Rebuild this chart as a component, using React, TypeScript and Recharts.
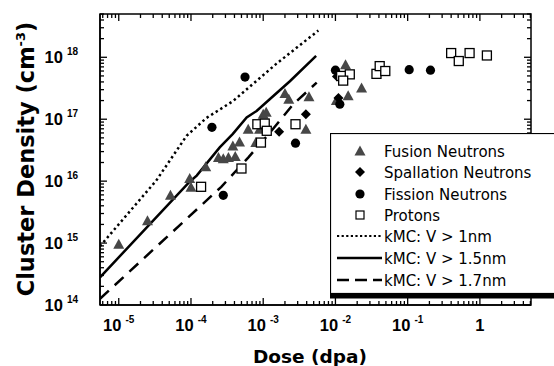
import { ScatterChart, Scatter, XAxis, YAxis, ReferenceArea } from "recharts";

const fusionDose = [
  1e-5, 2.5e-5, 5.2e-5, 9.6e-5, 1.0e-4, 1.6e-4, 2.4e-4, 2.8e-4, 3.3e-4, 4.1e-4,
  3.8e-4, 4.7e-4, 6.2e-4, 7.9e-4, 8.9e-4, 1.0e-3, 1.1e-3, 2.0e-3, 2.26e-3, 4.3e-3,
  3.9e-3, 1.03e-2, 1.5e-2, 1.38e-2, 2.3e-2,
];
const fusionDensity = [
  9.6e14, 2.3e15, 5.9e15, 1.1e16, 8.0e15, 1.7e16, 2.4e16, 2.3e16, 2.4e16, 2.5e16,
  3.7e16, 4.3e16, 6.9e16, 4.2e16, 6.9e16, 1.2e17, 1.3e17, 2.6e17, 2.1e17, 2.3e17,
  6.9e16, 2.0e17, 2.4e17, 7.6e17, 3.2e17,
];

const spallationDose = [1.66e-3, 3.9e-3, 1.05e-2, 1.1e-2];
const spallationDensity = [6.3e16, 1.2e17, 4.9e17, 2.2e17];

const fissionDose = [1.95e-4, 2.8e-4, 5.6e-4, 2.8e-3, 1.0e-2, 1.15e-2, 0.105, 0.207];
const fissionDensity = [7.4e16, 5.9e15, 4.8e17, 4.1e16, 6.2e17, 1.75e17, 6.3e17, 6.2e17];

const protonDose = [
  1.38e-4, 5.0e-4, 8.3e-4, 1.05e-3, 1.12e-3, 9.3e-4, 2.8e-3, 1.2e-2, 1.58e-2, 1.28e-2,
  3.7e-2, 4.1e-2, 4.9e-2, 0.4, 0.51, 0.72, 1.25,
];
const protonDensity = [
  8.1e15, 1.6e16, 8.3e16, 8.5e16, 6.5e16, 4.2e16, 8.3e16, 5.0e17, 5.3e17, 4.2e17,
  5.4e17, 7.2e17, 6.0e17, 1.17e18, 8.7e17, 1.17e18, 1.07e18,
];

// kMC curves
const kmc10Dose = [5.5e-6, 3.3e-5, 8.7e-5, 1.64e-4, 3.8e-4, 1.53e-3, 5.8e-3];
const kmc10Density = [8.9e14, 1.02e16, 5.4e16, 1.05e17, 1.95e17, 7.9e17, 2.7e18];

const kmc15Dose = [5.5e-6, 9.6e-5, 1.2e-4, 2.5e-4, 3.8e-4, 5.9e-4, 8.1e-4, 1.23e-3, 2.34e-3, 5.4e-3];
const kmc15Density = [2.8e14, 9.8e15, 1.23e16, 3.5e16, 5.8e16, 1.07e17, 1.36e17, 2.1e17, 4.1e17, 1.05e18];

const kmc17Dose = [5.5e-6, 2.63e-4, 6.2e-4, 1.23e-3, 2.6e-3, 5.5e-3];
const kmc17Density = [1.26e14, 8.1e15, 2.4e16, 6.0e16, 1.74e17, 3.9e17];

const xMajorTicks = [1e-5, 1e-4, 1e-3, 1e-2, 1e-1, 1];
const xTickExponents = ["-5", "-4", "-3", "-2", "-1", ""];
const yMajorTicks = [1e14, 1e15, 1e16, 1e17, 1e18];
const yTickExponents = ["14", "15", "16", "17", "18"];

const legendLabels = [
  "Fusion Neutrons",
  "Spallation Neutrons",
  "Fission Neutrons",
  "Protons",
  "kMC: V > 1nm",
  "kMC: V > 1.5nm",
  "kMC: V > 1.7nm",
];

const X_DOMAIN = [5.5e-6, 5.1];
const Y_DOMAIN = [1e14, 5e18];

const PLOT_TOP = 14;
const PLOT_BOTTOM = 305;
const PLOT_LEFT = 100;
const PLOT_RIGHT = 531;

const zip = (xs: number[], ys: number[]) => xs.map((x, i) => ({ x, y: ys[i] }));

function withMinors(majors: number[], lo: number, hi: number) {
  const out: number[] = [];
  const first = majors[0] / 10;
  for (const m of [first, ...majors]) {
    for (let k = 1; k < 10; k++) {
      const v = m * k;
      if (v >= lo && v <= hi) out.push(v);
    }
  }
  return out;
}

const xTicks = withMinors(xMajorTicks, X_DOMAIN[0], X_DOMAIN[1]);
const yTicks = withMinors(yMajorTicks, Y_DOMAIN[0], Y_DOMAIN[1]);

const majorIndex = (majors: number[], v: number) =>
  majors.findIndex((m) => Math.abs(v / m - 1) < 1e-6);

const TICK_FONT = "'Liberation Sans', Arial, sans-serif";
const TITLE_FONT = "'DejaVu Sans', sans-serif";

function XTick(props: any) {
  const { x, payload } = props;
  const i = majorIndex(xMajorTicks, payload.value);
  const len = i >= 0 ? 7 : 4;
  return (
    <g>
      <line x1={x} x2={x} y1={PLOT_BOTTOM} y2={PLOT_BOTTOM - len} stroke="#000" strokeWidth={1.3} />
      <line x1={x} x2={x} y1={PLOT_TOP} y2={PLOT_TOP + len} stroke="#000" strokeWidth={1.3} />
      {i >= 0 && (
        <text x={x} y={PLOT_BOTTOM + 26} textAnchor="middle" fontFamily={TICK_FONT} fontWeight="bold" fontSize={16.5} fill="#000">
          {xTickExponents[i] === "" ? (
            "1"
          ) : (
            <>
              10
              <tspan dx={4} dy={-8} fontSize={10}>{xTickExponents[i]}</tspan>
            </>
          )}
        </text>
      )}
    </g>
  );
}

function YTick(props: any) {
  const { y, payload } = props;
  const i = majorIndex(yMajorTicks, payload.value);
  const len = i >= 0 ? 7 : 4;
  return (
    <g>
      <line x1={PLOT_LEFT} x2={PLOT_LEFT + len} y1={y} y2={y} stroke="#000" strokeWidth={1.3} />
      <line x1={PLOT_RIGHT} x2={PLOT_RIGHT - len} y1={y} y2={y} stroke="#000" strokeWidth={1.3} />
      {i >= 0 && (
        <text x={PLOT_LEFT - 22} y={y + 6} textAnchor="end" fontFamily={TICK_FONT} fontWeight="bold" fontSize={16.5} fill="#000">
          10
          <tspan dx={4} dy={-8} fontSize={10}>{yTickExponents[i]}</tspan>
        </text>
      )}
    </g>
  );
}

function XTitle() {
  return (
    <text x={310} y={363} textAnchor="middle" fontFamily={TITLE_FONT} fontWeight="bold" fontSize={18.5} fill="#000">
      Dose (dpa)
    </text>
  );
}

function YTitle() {
  return (
    <text transform="translate(34,159) rotate(-90)" textAnchor="middle" fontFamily={TITLE_FONT} fontWeight="bold" fontSize={22.5} fill="#000">
      Cluster Density (cm
      <tspan dy={-9} fontSize={13}>-3</tspan>
      <tspan dy={9}>)</tspan>
    </text>
  );
}

const Triangle = ({ cx, cy }: any) => (
  <polygon points={`${cx},${cy - 5.5} ${cx - 5.5},${cy + 4.5} ${cx + 5.5},${cy + 4.5}`} fill="#474747" />
);
const Diamond = ({ cx, cy }: any) => (
  <polygon points={`${cx},${cy - 5} ${cx + 5},${cy} ${cx},${cy + 5} ${cx - 5},${cy}`} fill="#000" />
);
const Dot = ({ cx, cy }: any) => <circle cx={cx} cy={cy} r={4.6} fill="#000" />;
const Square = ({ cx, cy }: any) => (
  <rect x={cx - 4.5} y={cy - 4.5} width={9} height={9} fill="#fff" stroke="#000" strokeWidth={1.3} />
);
const NoShape = () => <g />;

function LegendBox() {
  const rowY = [18, 39, 61, 82, 103, 125, 147];
  const mx = 30;
  const tx = 54;
  return (
    <div style={{ position: "absolute", left: 330, top: 133, width: 240, height: 167 }}>
      <svg width={240} height={167}>
        <rect x={0.5} y={0.5} width={250} height={160} fill="#fff" stroke="#000" strokeWidth={1.2} />
        <line x1={0} x2={240} y1={163} y2={163} stroke="#000" strokeWidth={5} />
        <Triangle cx={mx} cy={rowY[0]} />
        <Diamond cx={mx} cy={rowY[1]} />
        <Dot cx={mx} cy={rowY[2]} />
        <rect x={mx - 4} y={rowY[3] - 4} width={8} height={8} fill="#fff" stroke="#000" strokeWidth={1.2} />
        <line x1={7} x2={51} y1={rowY[4]} y2={rowY[4]} stroke="#000" strokeWidth={2.2} strokeDasharray="2.2 2.4" />
        <line x1={7} x2={52} y1={rowY[5]} y2={rowY[5]} stroke="#000" strokeWidth={2.4} />
        <line x1={7} x2={52} y1={rowY[6]} y2={rowY[6]} stroke="#000" strokeWidth={2.4} strokeDasharray="12 6" />
        {legendLabels.map((label, i) => (
          <text key={label} x={tx} y={rowY[i] + 5.5} fontFamily={TITLE_FONT} fontSize={15} fill="#000">
            {label}
          </text>
        ))}
      </svg>
    </div>
  );
}

export default function App() {
  return (
    <div style={{ position: "absolute", left: 0, top: 0, width: 554, height: 366, overflow: "hidden", background: "#fff" }}>
      <ScatterChart width={554} height={366} margin={{ top: PLOT_TOP, right: 554 - PLOT_RIGHT, bottom: 0, left: 0 }}>
        <XAxis
          type="number"
          dataKey="x"
          scale="log"
          domain={X_DOMAIN}
          allowDataOverflow
          ticks={xTicks}
          interval={0}
          tick={<XTick />}
          tickLine={false}
          tickSize={0}
          tickMargin={0}
          height={366 - PLOT_BOTTOM}
          axisLine={{ stroke: "#000", strokeWidth: 1.5 }}
          label={<XTitle />}
        />
        <YAxis
          type="number"
          dataKey="y"
          scale="log"
          domain={Y_DOMAIN}
          allowDataOverflow
          ticks={yTicks}
          interval={0}
          tick={<YTick />}
          tickLine={false}
          tickSize={0}
          tickMargin={0}
          width={PLOT_LEFT}
          axisLine={{ stroke: "#000", strokeWidth: 1.5 }}
          label={<YTitle />}
        />
        <ReferenceArea
          x1={X_DOMAIN[0]}
          x2={X_DOMAIN[1]}
          y1={Y_DOMAIN[0]}
          y2={Y_DOMAIN[1]}
          fill="none"
          fillOpacity={0}
          stroke="#000"
          strokeWidth={1.5}
          ifOverflow="visible"
        />
        <Scatter data={zip(kmc10Dose, kmc10Density)} fill="none" shape={<NoShape />} line={{ stroke: "#000", strokeWidth: 2.5, strokeDasharray: "2.4 3" }} isAnimationActive={false} />
        <Scatter data={zip(kmc15Dose, kmc15Density)} fill="none" shape={<NoShape />} line={{ stroke: "#000", strokeWidth: 2.5 }} isAnimationActive={false} />
        <Scatter data={zip(kmc17Dose, kmc17Density)} fill="none" shape={<NoShape />} line={{ stroke: "#000", strokeWidth: 2.5, strokeDasharray: "12 8" }} isAnimationActive={false} />
        <Scatter data={zip(fusionDose, fusionDensity)} shape={<Triangle />} isAnimationActive={false} />
        <Scatter data={zip(spallationDose, spallationDensity)} shape={<Diamond />} isAnimationActive={false} />
        <Scatter data={zip(fissionDose, fissionDensity)} shape={<Dot />} isAnimationActive={false} />
        <Scatter data={zip(protonDose, protonDensity)} shape={<Square />} isAnimationActive={false} />
      </ScatterChart>
      <LegendBox />
    </div>
  );
}
